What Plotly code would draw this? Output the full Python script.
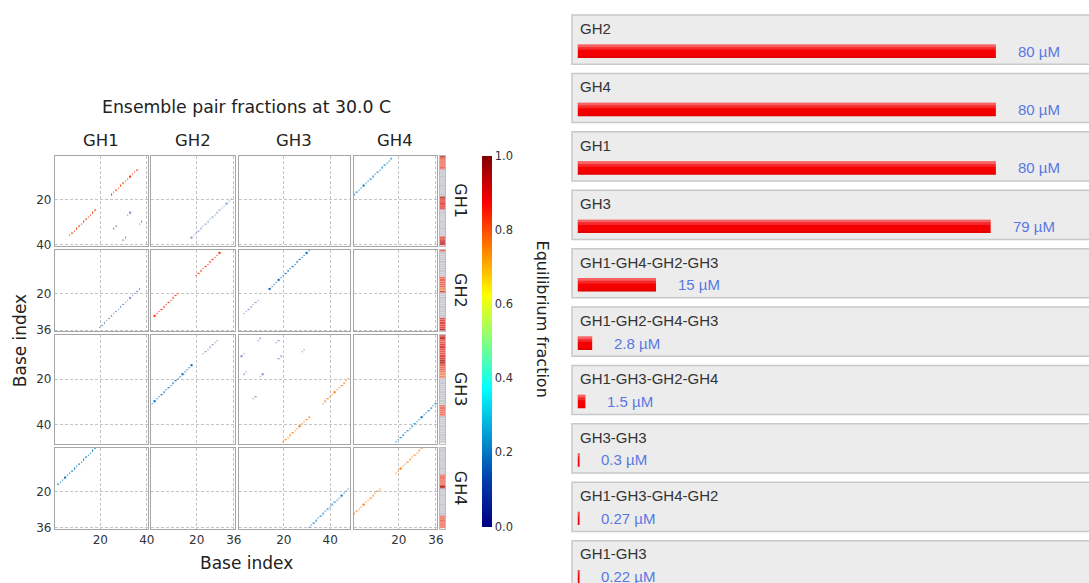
import numpy as np
import plotly.graph_objects as go

# Target picture size; layout positions are given in target pixels (as fractions).
W, H = 1089, 583
# size of the rendered page region that is photographed and scaled to W x H
FW, FH = 1097, 591
W0, H0 = W - 16, H - 16

# ---------------- data ----------------
strands = ["GH1", "GH2", "GH3", "GH4"]
strand_lengths = [40, 36, 48, 36]
strand_ticks = [[20, 40], [20, 36], [20, 40], [20, 36]]

# antiparallel helices: base (start_a + k) on strand a pairs with base (end_b - k) on strand b
helix_strand_a = ["GH1", "GH2", "GH3", "GH4", "GH1", "GH1", "GH2", "GH2", "GH3",
                  "GH1", "GH1", "GH3", "GH3", "GH3", "GH3"]
helix_start_a = [7, 2, 20, 1, 20, 2, 1, 23, 31, 26, 30, 2, 3, 10, 7]
helix_strand_b = ["GH1", "GH2", "GH3", "GH4", "GH2", "GH4", "GH3", "GH3", "GH4",
                  "GH1", "GH1", "GH3", "GH3", "GH3", "GH3"]
helix_end_b = [36, 30, 48, 30, 35, 17, 31, 9, 36, 33, 38, 10, 18, 19, 29]
helix_length = [12, 11, 12, 12, 18, 17, 18, 7, 18, 2, 2, 2, 2, 2, 2]
helix_fraction = [0.82, 0.83, 0.76, 0.76, 0.10, 0.20, 0.18, 0.08, 0.20,
                  0.05, 0.05, 0.05, 0.05, 0.05, 0.05]

colorbar_ticks = [0.0, 0.2, 0.4, 0.6, 0.8, 1.0]

complex_names = ["GH2", "GH4", "GH1", "GH3", "GH1-GH4-GH2-GH3", "GH1-GH2-GH4-GH3",
                 "GH1-GH3-GH2-GH4", "GH3-GH3", "GH1-GH3-GH4-GH2", "GH1-GH3"]
complex_conc_uM = [80, 80, 80, 79, 15, 2.8, 1.5, 0.3, 0.27, 0.22]

# ---------------- build pair matrices ----------------
FAINT = 0.12  # pair fractions below this are drawn in a lighter layer
L = dict(zip(strands, strand_lengths))
P = {(a, b): np.zeros((L[a], L[b])) for a in strands for b in strands}
for sa, ia, sb, jb, n, f in zip(helix_strand_a, helix_start_a, helix_strand_b,
                                helix_end_b, helix_length, helix_fraction):
    for k in range(n):
        i, j = ia + k, jb - k
        P[(sa, sb)][i - 1, j - 1] += f
        P[(sb, sa)][j - 1, i - 1] += f if (sa != sb or i != j) else 0

unpaired = {}
for s in strands:
    tot = sum(P[(s, t)].sum(axis=1) for t in strands)
    unpaired[s] = np.clip(1 - tot, 0, 1)

# ---------------- geometry (target pixels -> paper) ----------------
def fx(p):
    return p / W

def fy(p):
    return 1 - p / H

bpx, gapx = 2.32, 3.5
bpy, gapy = 2.25, 4.0
col_span, x0 = [], 55.0
for s in strands:
    col_span.append((x0, x0 + L[s] * bpx))
    x0 += L[s] * bpx + gapx
row_span, y0 = [], 155.0
for s in strands:
    row_span.append((y0, y0 + L[s] * bpy))
    y0 += L[s] * bpy + gapy

jet = [[0.0, "rgb(0,0,131)"], [0.125, "rgb(0,60,170)"], [0.375, "rgb(5,255,255)"],
       [0.625, "rgb(255,255,0)"], [0.875, "rgb(250,0,0)"], [1.0, "rgb(128,0,0)"]]
strip_scale = [[0.0, "#c6c6cf"], [0.45, "#cfcfd4"], [0.65, "#f2c070"],
               [0.8, "#ec7060"], [0.92, "#dd3b3b"], [1.0, "#b52a2a"]]

fig = go.Figure()
layout = {}
tickfont = dict(family="DejaVu Sans", size=12, color="#333333")


def an(n):
    return "" if n == 1 else str(n)


n = 0
for r, sr in enumerate(strands):
    for c, sc in enumerate(strands):
        n += 1
        z = P[(sr, sc)]
        xs = list(range(1, L[sc] + 1))
        ys = list(range(1, L[sr] + 1))
        zmain = [[(v if v >= FAINT else None) for v in row] for row in z]
        zfaint = [[(v if 0 < v < FAINT else None) for v in row] for row in z]
        fig.add_trace(go.Heatmap(
            z=zfaint, x=xs, y=ys, colorscale=jet, zmin=0, zmax=1, zsmooth=False,
            hoverongaps=False, xgap=0.9, ygap=0.9, opacity=0.5, showscale=False,
            xaxis="x" + an(n), yaxis="y" + an(n)))
        tr = go.Heatmap(
            z=zmain, x=xs, y=ys,
            colorscale=jet, zmin=0, zmax=1, zsmooth=False, hoverongaps=False,
            xgap=0.9, ygap=0.9,
            xaxis="x" + an(n), yaxis="y" + an(n), showscale=(n == 1),
        )
        if n == 1:
            tr.colorbar = dict(
                x=fx(482), xanchor="left", xpad=0, thickness=9.5, thicknessmode="pixels",
                len=(525 - 155) / H, lenmode="fraction", y=fy(340), yanchor="middle", ypad=0,
                tickmode="array", tickvals=colorbar_ticks,
                ticktext=[f"{t:.1f}" for t in colorbar_ticks], ticks="", outlinewidth=0,
                tickfont=dict(family="DejaVu Sans", size=11.5, color="#333333"),
            )
        fig.add_trace(tr)
        common = dict(showgrid=True, gridcolor="#c4c4c4", griddash="3px,2px", gridwidth=1,
                      zeroline=False, showline=True, mirror=True, linecolor="#a6a6a6",
                      linewidth=1.4, ticks="", tickfont=tickfont, tickmode="array",
                      fixedrange=True)
        layout["xaxis" + an(n)] = dict(
            common, domain=[fx(col_span[c][0]), fx(col_span[c][1])],
            range=[0.5, L[sc] + 0.5], tickvals=strand_ticks[c],
            showticklabels=(r == 3), anchor="y" + an(n))
        layout["yaxis" + an(n)] = dict(
            common, domain=[fy(row_span[r][1]), fy(row_span[r][0])],
            range=[L[sr] + 0.5, 0.5], tickvals=strand_ticks[r],
            showticklabels=(c == 0), anchor="x" + an(n))

# unpaired strips
for r, sr in enumerate(strands):
    n += 1
    fig.add_trace(go.Heatmap(
        z=[[u] for u in unpaired[sr]], x=[0], y=list(range(1, L[sr] + 1)),
        colorscale=strip_scale, zmin=0, zmax=1, showscale=False, ygap=0.4,
        xaxis="x" + an(n), yaxis="y" + an(n)))
    layout["xaxis" + an(n)] = dict(domain=[fx(439.5), fx(445)], range=[-0.5, 0.5],
                                   showgrid=False, zeroline=False, showticklabels=False,
                                   showline=True, mirror=True, linecolor="#bdbdbd",
                                   linewidth=1, ticks="", anchor="y" + an(n))
    layout["yaxis" + an(n)] = dict(domain=[fy(row_span[r][1]), fy(row_span[r][0])],
                                   range=[L[sr] + 0.5, 0.5], showgrid=False, zeroline=False,
                                   showticklabels=False, showline=True, mirror=True,
                                   linecolor="#bdbdbd", linewidth=1, ticks="",
                                   anchor="x" + an(n))

# ---------------- right panel: complex concentrations ----------------
n += 1
rb = an(n)
pitch = 58.2
idx = list(range(len(complex_names)))
y_top = -51 / pitch
y_bot = (H - 51) / pitch
layout["xaxis" + rb] = dict(domain=[fx(577), 1], range=[0, 98], visible=False,
                            anchor="y" + rb, fixedrange=True)
layout["yaxis" + rb] = dict(domain=[0, 1], range=[y_bot, y_top], visible=False,
                            anchor="x" + rb, fixedrange=True)

bw = 13.4 / pitch
fig.add_trace(go.Bar(x=complex_conc_uM, y=idx, orientation="h", width=bw, offset=-bw / 2,
                     marker=dict(color="#f40000", line=dict(width=0)),
                     xaxis="x" + rb, yaxis="y" + rb, hoverinfo="skip"))
fig.add_trace(go.Bar(x=complex_conc_uM, y=idx, orientation="h", width=bw * 0.2,
                     offset=-bw / 2, marker=dict(color="rgba(255,255,255,0.38)", line=dict(width=0)),
                     xaxis="x" + rb, yaxis="y" + rb, hoverinfo="skip"))
fig.add_trace(go.Bar(x=complex_conc_uM, y=idx, orientation="h", width=bw * 0.2,
                     offset=-bw / 2 + bw * 0.2,
                     marker=dict(color="rgba(255,255,255,0.16)", line=dict(width=0)),
                     xaxis="x" + rb, yaxis="y" + rb, hoverinfo="skip"))
fig.add_trace(go.Bar(x=complex_conc_uM, y=idx, orientation="h", width=bw * 0.15,
                     offset=bw / 2 - bw * 0.15,
                     marker=dict(color="rgba(120,0,0,0.12)", line=dict(width=0)),
                     xaxis="x" + rb, yaxis="y" + rb, hoverinfo="skip"))

shapes = []
annotations = []
for k, (name, v) in enumerate(zip(complex_names, complex_conc_uM)):
    shapes.append(dict(type="rect", xref="paper", yref="y" + rb, x0=fx(571.5), x1=1.05,
                       y0=k - 36 / pitch, y1=k + 13 / pitch, fillcolor="#ececec",
                       line=dict(color="#c8c8c8", width=1.5), layer="below"))
    annotations.append(dict(text=name, xref="paper", yref="y" + rb, x=fx(577),
                            y=k - 22.7 / pitch, xanchor="left", yanchor="middle",
                            showarrow=False,
                            font=dict(family="Liberation Sans", size=15, color="#333333")))
    annotations.append(dict(text=f"{v:g} µM", xref="x" + rb, yref="y" + rb, x=v, y=k,
                            xanchor="left", yanchor="middle", xshift=20, showarrow=False,
                            font=dict(family="Liberation Sans", size=15, color="#5878e2")))

# ---------------- left panel texts ----------------
dj = "DejaVu Sans"
annotations.append(dict(text="Ensemble pair fractions at 30.0 C", xref="paper", yref="paper",
                        x=fx(246.5), y=fy(107), showarrow=False, xanchor="center",
                        yanchor="middle", font=dict(family=dj, size=17.3, color="#222222")))
for c, s in enumerate(strands):
    annotations.append(dict(text=s, xref="paper", yref="paper",
                            x=fx((col_span[c][0] + col_span[c][1]) / 2), y=fy(140),
                            showarrow=False, xanchor="center", yanchor="middle",
                            font=dict(family=dj, size=16.5, color="#222222")))
for r, s in enumerate(strands):
    annotations.append(dict(text=s, xref="paper", yref="paper", x=fx(460),
                            y=fy((row_span[r][0] + row_span[r][1]) / 2), textangle=90,
                            showarrow=False, xanchor="center", yanchor="middle",
                            font=dict(family=dj, size=16, color="#222222")))
annotations.append(dict(text="Base index", xref="paper", yref="paper", x=fx(246.5), y=fy(561),
                        showarrow=False, xanchor="center", yanchor="middle",
                        font=dict(family=dj, size=17, color="#222222")))
annotations.append(dict(text="Base index", xref="paper", yref="paper", x=fx(20), y=fy(340),
                        textangle=-90, showarrow=False, xanchor="center", yanchor="middle",
                        font=dict(family=dj, size=17, color="#222222")))
annotations.append(dict(text="Equilibrium fraction", xref="paper", yref="paper", x=fx(542),
                        y=fy(318), textangle=90, showarrow=False, xanchor="center",
                        yanchor="middle", font=dict(family=dj, size=16, color="#222222")))

fig.update_layout(
    width=W0, height=H0, margin=dict(l=0, r=0, t=0, b=0, pad=0),
    paper_bgcolor="white", plot_bgcolor="rgba(0,0,0,0)",
    showlegend=False, barmode="overlay", shapes=shapes, annotations=annotations,
    font=dict(family=dj, color="#333333"),
    **layout,
)
post = ("document.body.style.margin='0';document.body.style.overflow='hidden';"
        "Plotly.relayout(document.getElementById('{plot_id}'), {width: %d, height: %d});" % (FW, FH))
fig.write_html("out.html", config={"displayModeBar": False}, post_script=post)
